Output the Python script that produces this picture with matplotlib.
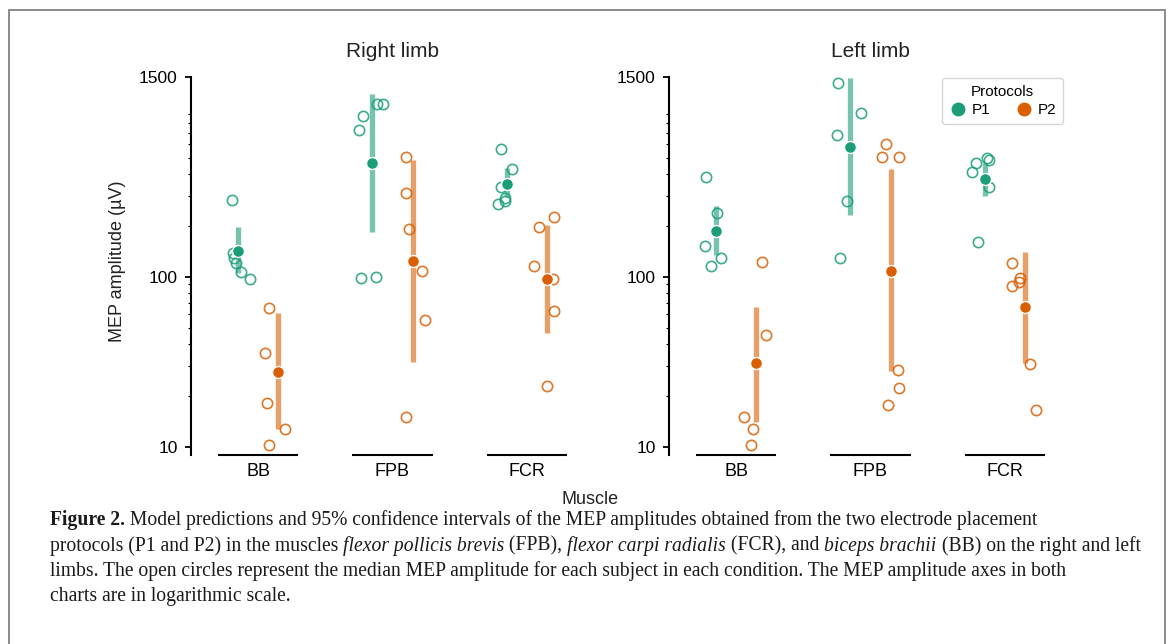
import numpy as np
import matplotlib
matplotlib.use("Agg")
import matplotlib.pyplot as plt
from matplotlib.lines import Line2D
from matplotlib.patches import Rectangle

# ---------------- data ----------------
muscles = ["BB", "FPB", "FCR"]
protocols = ["P1", "P2"]
limb_titles = ["Right limb", "Left limb"]

# model predictions (means) and 95% CI, per muscle [BB, FPB, FCR]
right_p1_mean = [142, 469, 351]
right_p1_low = [105, 184, 296]
right_p1_high = [197, 1183, 435]
right_p2_mean = [27.6, 124, 97.3]
right_p2_low = [12.7, 31.6, 46.4]
right_p2_high = [61, 486, 201]

left_p1_mean = [186, 582, 374]
left_p1_low = [134, 231, 298]
left_p1_high = [262, 1469, 464]
left_p2_mean = [31, 108, 66.1]
left_p2_low = [14.0, 28.0, 31.2]
left_p2_high = [66.7, 428, 139]

# subject medians (open circles) per muscle
right_p1_subjects = [[283, 138, 128, 121, 106, 97],
                     [729, 881, 1038, 1038, 97.9, 100],
                     [562, 432, 338, 267, 279, 290]]
right_p2_subjects = [[65.8, 35.4, 18.2, 12.7, 10.2],
                     [508, 310, 190, 108, 55.6, 15.0],
                     [223, 197, 116, 97.3, 63.1, 22.9]]
left_p1_subjects = [[387, 236, 152, 128, 116],
                    [1374, 914, 682, 280, 129],
                    [464, 501, 486, 415, 338, 159]]
left_p2_subjects = [[121.6, 45.2, 15.0, 12.7, 10.2],
                    [604, 504, 508, 28.2, 22.2, 17.6],
                    [120, 98, 93.5, 88.1, 30.6, 16.4]]

# horizontal jitter of the open circles (category units)
right_p1_jitter = [[-0.047, -0.037, -0.030, -0.017, 0.022, 0.094],
                   [-0.099, -0.069, 0.035, 0.080, -0.081, 0.025],
                   [-0.045, 0.039, -0.045, -0.065, -0.010, -0.016]]
right_p2_jitter = [[-0.070, -0.100, -0.083, 0.054, -0.070],
                   [-0.046, -0.046, -0.027, 0.070, 0.090, -0.046],
                   [0.051, -0.060, -0.097, 0.044, 0.051, -0.005]]
left_p1_jitter = [[-0.075, 0.007, -0.078, 0.036, -0.036],
                  [-0.094, 0.077, -0.097, -0.022, -0.077],
                  [-0.068, 0.014, 0.033, -0.097, 0.029, -0.048]]
left_p2_jitter = [[0.045, 0.071, -0.091, -0.022, -0.041],
                  [-0.037, -0.067, 0.062, 0.052, 0.062, -0.022],
                  [-0.096, -0.039, -0.046, -0.096, 0.036, 0.078]]

y_ticks = [10, 100, 1500]

caption_lines = [
    [("Figure 2.", "bold"), (" Model predictions and 95% confidence intervals of the MEP amplitudes obtained from the two electrode placement", "normal")],
    [("protocols (P1 and P2) in the muscles ", "normal"), ("flexor pollicis brevis", "italic"), (" (FPB), ", "normal"),
     ("flexor carpi radialis", "italic"), (" (FCR), and ", "normal"), ("biceps brachii", "italic"),
     (" (BB) on the right and left", "normal")],
    [("limbs. The open circles represent the median MEP amplitude for each subject in each condition. The MEP amplitude axes in both", "normal")],
    [("charts are in logarithmic scale.", "normal")],
]

# ---------------- style ----------------
W, H = 1169, 644
DPI = 100
colors = {"P1": "#1b9e77", "P2": "#d95f02"}
dodge = {"P1": -0.15, "P2": 0.15}
SANS = ["Liberation Sans", "DejaVu Sans"]
SERIF = ["Liberation Serif", "DejaVu Serif"]
plt.rcParams["font.family"] = SANS

fig = plt.figure(figsize=(W / DPI, H / DPI), dpi=DPI)
fig.patch.set_facecolor("white")

def fx(px):
    return px / W

def fy(py):
    return 1 - py / H

ax_top_px, ax_bot_px = 67.5, 454.5
ax_w_px = 403.5
axes_left_px = [190.75, 668.75]
ylim = (9.0, 1700)

limb_data = [
    {"P1": (right_p1_mean, right_p1_low, right_p1_high, right_p1_subjects, right_p1_jitter),
     "P2": (right_p2_mean, right_p2_low, right_p2_high, right_p2_subjects, right_p2_jitter)},
    {"P1": (left_p1_mean, left_p1_low, left_p1_high, left_p1_subjects, left_p1_jitter),
     "P2": (left_p2_mean, left_p2_low, left_p2_high, left_p2_subjects, left_p2_jitter)},
]

axes = []
for li, lp in enumerate(axes_left_px):
    ax = fig.add_axes([fx(lp), fy(ax_bot_px), fx(ax_w_px), (ax_bot_px - ax_top_px) / H])
    axes.append(ax)
    ax.set_yscale("log")
    ax.set_xlim(-0.5, len(muscles) - 0.5)
    ax.set_ylim(*ylim)
    x = np.arange(len(muscles))
    for p in protocols:
        mean, low, high, subj, jit = limb_data[li][p]
        c = colors[p]
        xp = x + dodge[p]
        ax.vlines(xp, low, high, color=c, alpha=0.6, lw=3.8, zorder=2, capstyle="butt")
        for mi in range(len(muscles)):
            sx = xp[mi] + np.array(jit[mi])
            ax.plot(sx, subj[mi], ls="none", marker="o", ms=7.4, mfc="none",
                    mec=c, mew=1.2, alpha=0.85, zorder=3)
        ax.plot(xp, mean, ls="none", marker="o", ms=8.6, mfc=c, mec="white",
                mew=1.0, zorder=4)
    # axes styling
    for s in ["top", "right", "bottom"]:
        ax.spines[s].set_visible(False)
    ax.spines["left"].set_linewidth(1.5)
    ax.spines["left"].set_bounds(ylim[0], y_ticks[-1])
    ax.set_yticks(y_ticks)
    ax.set_yticklabels([str(t) for t in y_ticks])
    minor = [m * 10 ** e for e in (1, 2) for m in range(2, 10)]
    ax.set_yticks(minor, minor=True)
    ax.set_yticklabels([], minor=True)
    ax.tick_params(axis="y", which="major", length=4.5, width=1.3, labelsize=12.5, pad=5)
    ax.tick_params(axis="y", which="minor", length=2.2, width=0.8)
    ax.set_xticks(x)
    ax.set_xticklabels(muscles)
    ax.tick_params(axis="x", length=0, labelsize=13, pad=6)
    ax.hlines(np.full(len(x), ylim[0]), x - 0.3, x + 0.3, color="black", lw=1.5,
              clip_on=False, zorder=5)
    ax.set_facecolor("none")
    fig.text(fx(lp + ax_w_px / 2), fy(56.7), limb_titles[li], ha="center", va="baseline",
             fontsize=15, color="#222222")

axes[0].set_ylabel("MEP amplitude (\u00b5V)", fontsize=13, labelpad=9, color="#222222")
fig.text(fx(590), fy(499), "Muscle", ha="center", va="center", fontsize=13, color="#222222")

handles = [Line2D([], [], ls="none", marker="o", ms=9, mfc=colors[p], mec=colors[p]) for p in protocols]
leg = axes[1].legend(handles, protocols, title="Protocols", ncol=2, loc="upper right",
                     bbox_to_anchor=(fx(1063), fy(78)), bbox_transform=fig.transFigure,
                     borderaxespad=0, fontsize=11, title_fontsize=11, frameon=True,
                     edgecolor="#cccccc", fancybox=True, handletextpad=0.3,
                     columnspacing=1.6, handlelength=1.2, borderpad=0.45, labelspacing=0.3)
leg.get_frame().set_linewidth(1.0)

# ---------------- border ----------------
fig.patches.append(Rectangle((fx(9), fy(660)), fx(1165 - 9), (660 - 10) / H,
                             transform=fig.transFigure, fill=False, edgecolor="#8a8a8a",
                             lw=1.4, zorder=0))

# ---------------- caption ----------------
renderer = fig.canvas.get_renderer()

def text_width(s, size, weight="normal", style="normal"):
    t = fig.text(0, 0, s + "x", fontsize=size, fontweight=weight, fontstyle=style, family=SERIF)
    t2 = fig.text(0, 0, "x", fontsize=size, fontweight=weight, fontstyle=style, family=SERIF)
    w = t.get_window_extent(renderer).width - t2.get_window_extent(renderer).width
    t.remove(); t2.remove()
    return w

def run_style(kind):
    if kind == "bold":
        return "bold", "normal"
    if kind == "italic":
        return "normal", "italic"
    return "normal", "normal"

def line_width(runs, size):
    return sum(text_width(s, size, *run_style(k)) for s, k in runs)

base = 12.0
cap_x0 = 50
cap_size = base * (1135 - cap_x0) / line_width(caption_lines[1], base)

baselines = [525, 550.5, 576, 601.5]
for runs, by in zip(caption_lines, baselines):
    xpx = cap_x0
    for s, k in runs:
        wgt, sty = run_style(k)
        fig.text(fx(xpx), fy(by), s, fontsize=cap_size, fontweight=wgt, fontstyle=sty,
                 family=SERIF, va="baseline", ha="left", color="#1a1a1a")
        xpx += text_width(s, cap_size, wgt, sty)

fig.savefig("out.png", dpi=DPI, facecolor="white")
